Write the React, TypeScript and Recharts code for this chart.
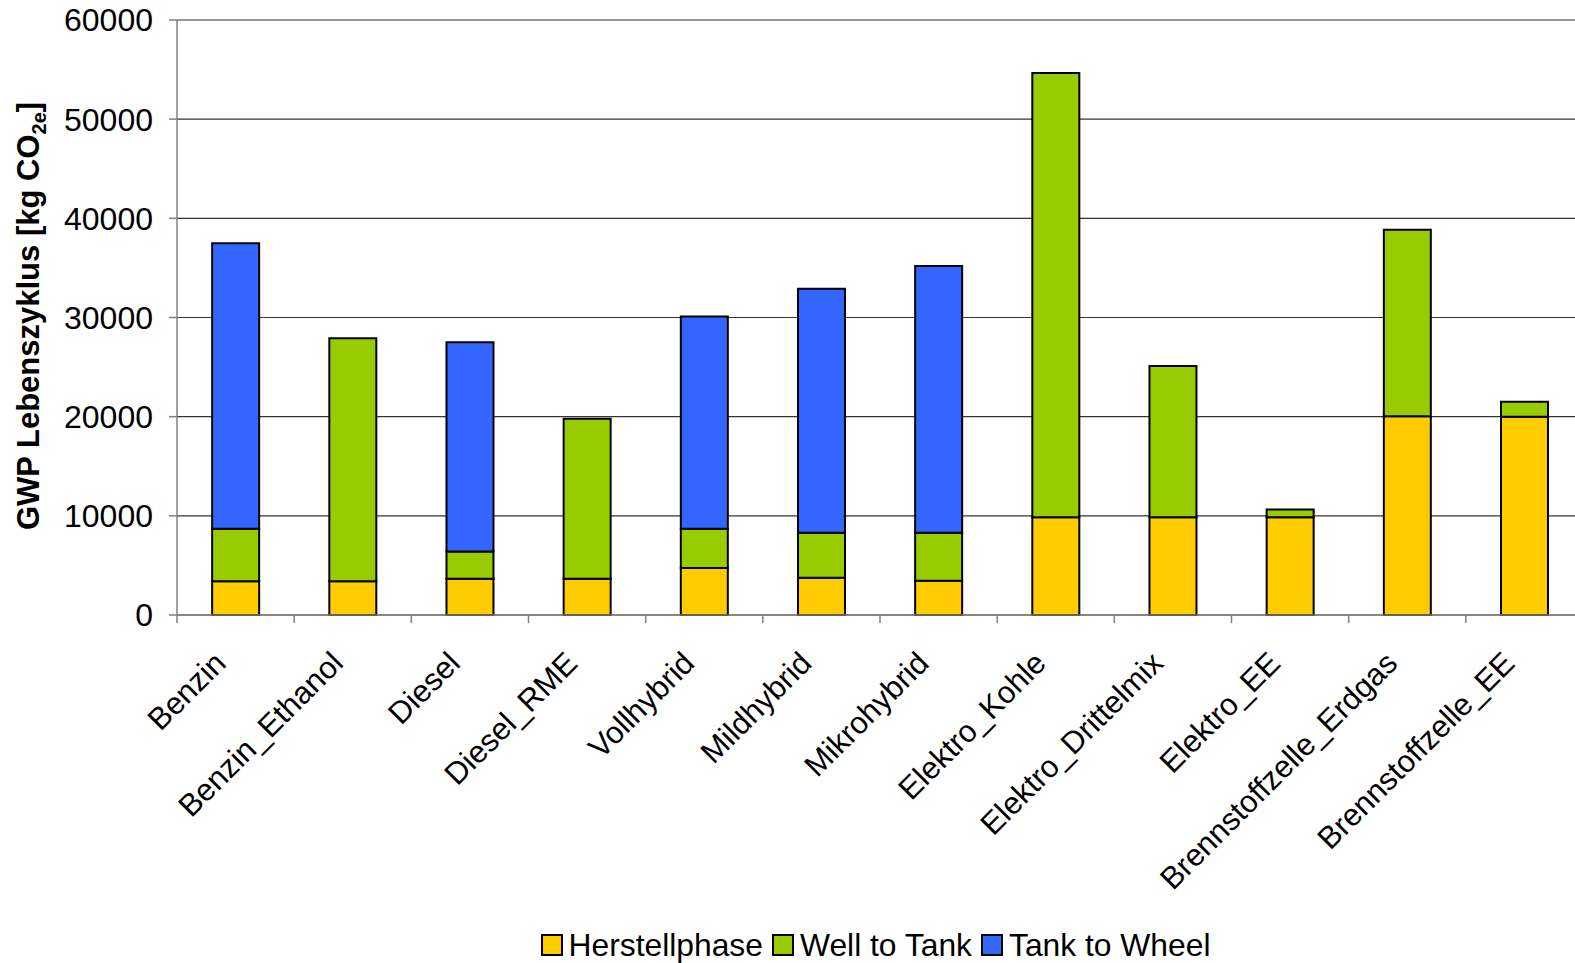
import { BarChart, Bar, XAxis, YAxis, CartesianGrid, Legend } from 'recharts';

const categories = [
  'Benzin',
  'Benzin_Ethanol',
  'Diesel',
  'Diesel_RME',
  'Vollhybrid',
  'Mildhybrid',
  'Mikrohybrid',
  'Elektro_Kohle',
  'Elektro_Drittelmix',
  'Elektro_EE',
  'Brennstoffzelle_Erdgas',
  'Brennstoffzelle_EE',
];

const herstellphase = [3400, 3400, 3650, 3650, 4750, 3750, 3450, 9850, 9850, 9850, 20050, 20000];
const wellToTank = [5300, 24500, 2750, 16150, 3950, 4550, 4850, 44800, 15250, 800, 18800, 1500];
const tankToWheel = [28800, 0, 21100, 0, 21400, 24600, 26900, 0, 0, 0, 0, 0];

const yTicks = [0, 10000, 20000, 30000, 40000, 50000, 60000];

const seriesInfo = [
  { key: 'herstell', name: 'Herstellphase', color: '#FFCC00' },
  { key: 'wtt', name: 'Well to Tank', color: '#99CC00' },
  { key: 'ttw', name: 'Tank to Wheel', color: '#3366FF' },
];

const data = categories.map((name, i) => ({
  name,
  herstell: herstellphase[i],
  wtt: wellToTank[i],
  ttw: tankToWheel[i],
}));

const FONT = 'Arial, "Liberation Sans", sans-serif';
// plot runs past the right edge of the picture, like the original
const PLOT_W = 1406;
const BAND = PLOT_W / categories.length;

function XTick(props: any) {
  const { x, y, payload } = props;
  const tx = x - 8;
  const ty = y + 50;
  return (
    <g>
      <line x1={x - BAND / 2} x2={x - BAND / 2} y1={y} y2={y + 8} stroke="#808080" strokeWidth={1.5} />
      <text
        x={tx}
        y={ty}
        textAnchor="end"
        fontSize={31}
        fontFamily={FONT}
        fill="#000"
        transform={`rotate(-45, ${tx}, ${ty})`}
      >
        {payload.value}
      </text>
    </g>
  );
}

function LegendBox() {
  return (
    <div
      style={{
        display: 'flex',
        justifyContent: 'center',
        alignItems: 'center',
        height: 40,
        paddingTop: 2,
        fontFamily: FONT,
        fontSize: 31.8,
        color: '#000',
        lineHeight: '38px',
      }}
    >
      {seriesInfo.map((s) => (
        <div key={s.key} style={{ display: 'flex', alignItems: 'center', marginRight: 9 }}>
          <span
            style={{
              display: 'inline-block',
              width: 18,
              height: 18,
              background: s.color,
              border: '2px solid #000',
              marginRight: 6,
            }}
          />
          <span>{s.name}</span>
        </div>
      ))}
    </div>
  );
}

export default function App() {
  return (
    <div style={{ position: 'absolute', left: 0, top: 0, width: 1575, height: 963, background: '#fff', overflow: 'hidden' }}>
      <BarChart
        width={1575}
        height={963}
        data={data}
        margin={{ top: 20, right: 1575 - 177 - PLOT_W, left: 0, bottom: 0 }}
        barCategoryGap="30%"
      >
        <CartesianGrid vertical={false} stroke="#333" strokeWidth={1.2} />
        <XAxis
          dataKey="name"
          height={308}
          interval={0}
          tickLine={false}
          tickSize={0}
          tickMargin={0}
          stroke="#808080"
          strokeWidth={1.5}
          tick={<XTick />}
        />
        <YAxis
          width={177}
          domain={[0, 60000]}
          ticks={yTicks}
          interval={0}
          tickSize={8}
          tickMargin={16}
          stroke="#808080"
          strokeWidth={1.5}
          tick={{ fontSize: 32, fill: '#000', fontFamily: FONT }}
          label={{
            content: () => (
              <text
                x={39}
                y={316}
                textAnchor="middle"
                fontSize={31}
                fontWeight="bold"
                fontFamily={FONT}
                fill="#000"
                transform="rotate(-90, 39, 316)"
              >
                GWP Lebenszyklus [kg CO
                <tspan fontSize={20} dy={7}>2e</tspan>
                <tspan dy={-7}>]</tspan>
              </text>
            ),
          }}
        />
        <Legend verticalAlign="bottom" height={40} wrapperStyle={{ left: 177, width: PLOT_W }} content={<LegendBox />} />
        {seriesInfo.map((s) => (
          <Bar
            key={s.key}
            dataKey={s.key}
            name={s.name}
            stackId="a"
            fill={s.color}
            stroke="#000"
            strokeWidth={2}
            isAnimationActive={false}
          />
        ))}
      </BarChart>
    </div>
  );
}
